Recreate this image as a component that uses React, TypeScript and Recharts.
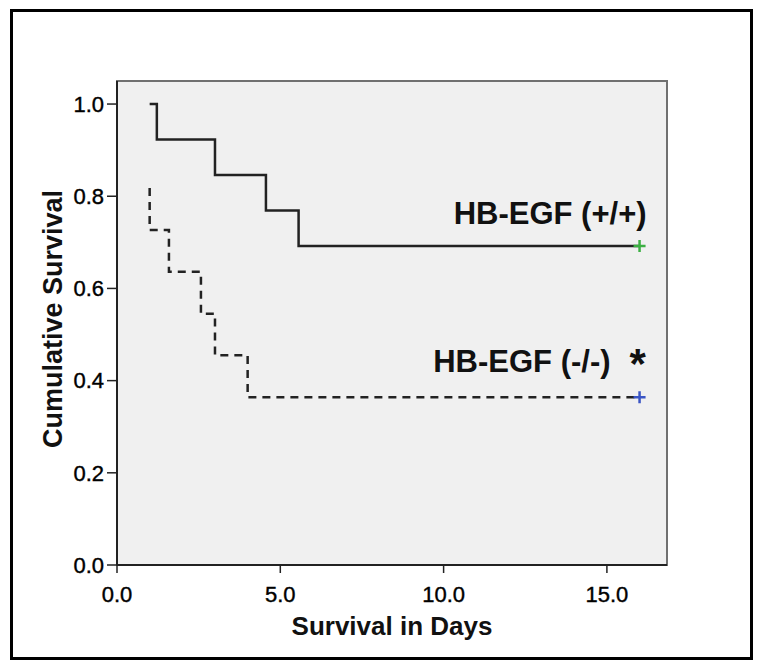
import React from "react";
import {
  ComposedChart,
  Line,
  Scatter,
  XAxis,
  YAxis,
  ReferenceArea,
  ReferenceDot,
} from "recharts";

// Kaplan-Meier steps (days, cumulative survival)
const wildTypeDays = [1.0, 1.22, 3.0, 4.56, 5.56, 16.0];
const wildTypeSurvival = [1.0, 0.923, 0.846, 0.769, 0.692, 0.692];
const knockoutDays = [1.0, 1.0, 1.59, 2.57, 3.0, 4.0, 16.0];
const knockoutSurvival = [0.818, 0.727, 0.636, 0.545, 0.455, 0.364, 0.364];

const xTicks = [0, 5, 10, 15];
const yTicks = [0, 0.2, 0.4, 0.6, 0.8, 1.0];
const xDomain = [0, 16.84];
const yDomain = [0, 1.05];

const wildTypeLabel = "HB-EGF (+/+)";
const knockoutLabel = "HB-EGF (-/-)";

const wildType = wildTypeDays.map((t, i) => ({ t, s: wildTypeSurvival[i] }));
const knockout = knockoutDays.map((t, i) => ({ t, s: knockoutSurvival[i] }));
const wildTypeCensor = [wildType[wildType.length - 1]];
const knockoutCensor = [knockout[knockout.length - 1]];

const FONT = "'Liberation Sans', Arial, sans-serif";

const tickStyle = {
  fill: "#000",
  stroke: "#000",
  strokeWidth: 0.4,
  fontSize: 22,
  fontFamily: FONT,
};

const plusShape = (color: string) => (props: any) => {
  const { cx, cy } = props;
  return (
    <path
      d={`M${cx - 6},${cy} H${cx + 6} M${cx},${cy - 6} V${cy + 6}`}
      stroke={color}
      strokeWidth={2.5}
      fill="none"
    />
  );
};

export default function App() {
  return (
    <div
      style={{
        position: "absolute",
        left: 0,
        top: 0,
        width: 762,
        height: 672,
        background: "#fff",
      }}
    >
      <div
        style={{
          position: "absolute",
          left: 10,
          top: 9,
          width: 737,
          height: 645,
          border: "3px solid #000",
        }}
      />
      <ComposedChart
        width={762}
        height={672}
        margin={{ top: 81, right: 95, bottom: 0, left: 0 }}
        style={{ position: "absolute", left: 0, top: 0 }}
      >
        <XAxis
          type="number"
          dataKey="t"
          domain={xDomain}
          ticks={xTicks}
          allowDataOverflow
          height={107}
          tickSize={8}
          tickMargin={13}
          tickFormatter={(v: number) => v.toFixed(1)}
          axisLine={{ stroke: "#222", strokeWidth: 2 }}
          tickLine={{ stroke: "#222", strokeWidth: 1.5 }}
          tick={tickStyle}
          label={{
            content: ({ viewBox }: any) => (
              <text
                x={viewBox.x + viewBox.width / 2}
                y={viewBox.y + 70}
                textAnchor="middle"
                fontFamily={FONT}
                fontWeight="bold"
                fontSize={26}
                fill="#111"
              >
                Survival in Days
              </text>
            ),
          }}
        />
        <YAxis
          type="number"
          dataKey="s"
          domain={yDomain}
          ticks={yTicks}
          allowDataOverflow
          width={117}
          tickSize={10}
          tickMargin={3}
          tickFormatter={(v: number) => v.toFixed(1)}
          axisLine={{ stroke: "#222", strokeWidth: 2 }}
          tickLine={{ stroke: "#222", strokeWidth: 1.5 }}
          tick={tickStyle}
          label={{
            content: ({ viewBox }: any) => {
              const cy = viewBox.y + viewBox.height / 2 - 4;
              return (
                <text
                  x={62}
                  y={cy}
                  transform={`rotate(-90, 62, ${cy})`}
                  textAnchor="middle"
                  fontFamily={FONT}
                  fontWeight="bold"
                  fontSize={27}
                  fill="#111"
                >
                  Cumulative Survival
                </text>
              );
            },
          }}
        />
        <ReferenceArea
          x1={xDomain[0]}
          x2={xDomain[1]}
          y1={yDomain[0]}
          y2={yDomain[1]}
          fill="#f0f0f0"
          fillOpacity={1}
          stroke="#707070"
          strokeWidth={2}
        />
        <Line
          data={wildType}
          dataKey="s"
          type="stepAfter"
          stroke="#222"
          strokeWidth={2.5}
          dot={false}
          isAnimationActive={false}
        />
        <Line
          data={knockout}
          dataKey="s"
          type="stepAfter"
          stroke="#222"
          strokeWidth={2.5}
          strokeDasharray="8 6"
          dot={false}
          isAnimationActive={false}
        />
        <Scatter
          data={wildTypeCensor}
          dataKey="s"
          shape={plusShape("#3cb043")}
          isAnimationActive={false}
        />
        <Scatter
          data={knockoutCensor}
          dataKey="s"
          shape={plusShape("#3a55c4")}
          isAnimationActive={false}
        />
        <ReferenceDot
          x={wildTypeCensor[0].t}
          y={wildTypeCensor[0].s}
          r={0}
          fill="none"
          stroke="none"
          label={{
            content: ({ viewBox }: any) => (
              <text
                x={viewBox.x + 7}
                y={viewBox.y - 22}
                textAnchor="end"
                fontFamily={FONT}
                fontWeight="bold"
                fontSize={31}
                fill="#111"
              >
                {wildTypeLabel}
              </text>
            ),
          }}
        />
        <ReferenceDot
          x={knockoutCensor[0].t}
          y={knockoutCensor[0].s}
          r={0}
          fill="none"
          stroke="none"
          label={{
            content: ({ viewBox }: any) => (
              <g>
                <text
                  x={viewBox.x - 29}
                  y={viewBox.y - 25}
                  textAnchor="end"
                  fontFamily={FONT}
                  fontWeight="bold"
                  fontSize={31}
                  fill="#111"
                >
                  {knockoutLabel}
                </text>
                <text
                  x={viewBox.x - 10}
                  y={viewBox.y - 19}
                  textAnchor="start"
                  fontFamily={FONT}
                  fontWeight="bold"
                  fontSize={42}
                  fill="#111"
                >
                  *
                </text>
              </g>
            ),
          }}
        />
      </ComposedChart>
    </div>
  );
}
